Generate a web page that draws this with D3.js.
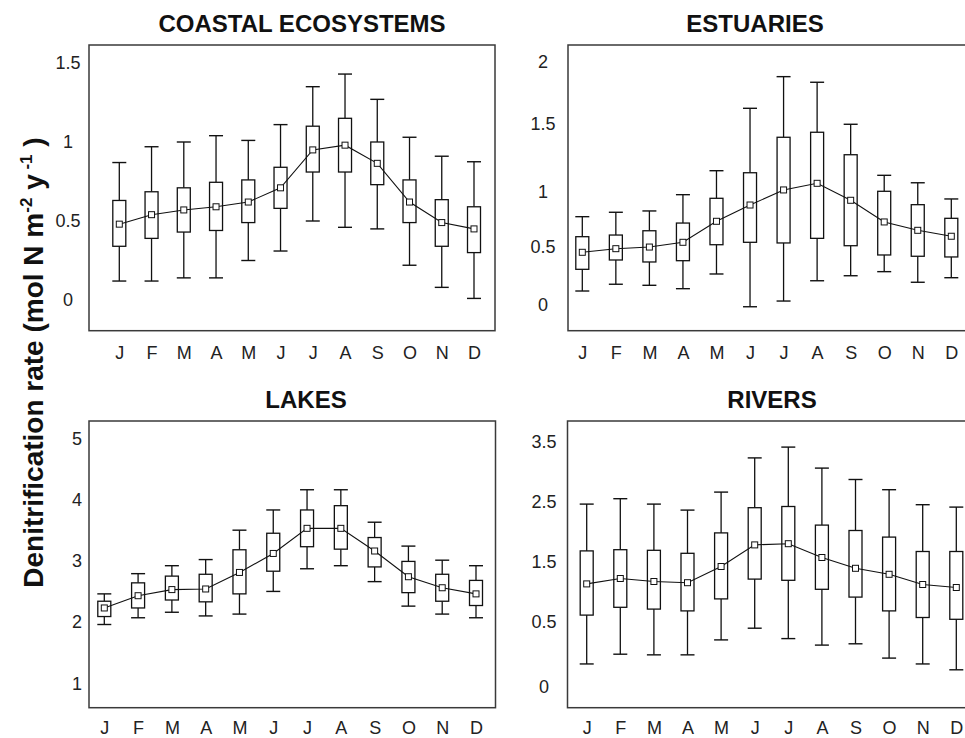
<!DOCTYPE html>
<html><head><meta charset="utf-8">
<script src="https://cdn.jsdelivr.net/npm/d3@7"></script>
<style>body{margin:0;background:#fff}svg{display:block}</style>
</head><body>
<svg id="c" width="965" height="738"></svg>
<script>
const months = ["J","F","M","A","M","J","J","A","S","O","N","D"];

const coastalHigh = [0.87,0.97,1.00,1.04,1.01,1.11,1.35,1.43,1.27,1.03,0.91,0.875];
const coastalQ3   = [0.63,0.685,0.71,0.745,0.76,0.84,1.10,1.15,1.00,0.76,0.635,0.59];
const coastalMean = [0.48,0.54,0.57,0.59,0.62,0.71,0.95,0.98,0.865,0.62,0.49,0.45];
const coastalQ1   = [0.34,0.39,0.43,0.44,0.49,0.58,0.81,0.81,0.73,0.49,0.34,0.30];
const coastalLow  = [0.12,0.12,0.14,0.14,0.25,0.31,0.50,0.46,0.45,0.22,0.08,0.01];
const coastalTicks = [0,0.5,1,1.5];

const estuariesHigh = [0.773,0.813,0.825,0.973,1.155,1.626,1.880,1.835,1.498,1.121,1.066,0.934];
const estuariesQ3   = [0.591,0.606,0.645,0.715,0.940,1.140,1.402,1.439,1.273,1.003,0.882,0.758];
const estuariesMean = [0.452,0.483,0.497,0.540,0.731,0.879,1.013,1.062,0.922,0.725,0.649,0.595];
const estuariesQ1   = [0.306,0.386,0.369,0.380,0.518,0.540,0.534,0.576,0.509,0.429,0.418,0.412];
const estuariesLow  = [0.120,0.178,0.169,0.140,0.266,-0.015,0.034,0.208,0.251,0.286,0.195,0.234];
const estuariesTicks = [0,0.5,1,1.5,2];

const lakesHigh = [2.46,2.79,2.92,3.02,3.50,3.83,4.16,4.16,3.63,3.24,3.01,2.92];
const lakesQ3   = [2.34,2.64,2.75,2.78,3.18,3.45,3.83,3.90,3.38,2.99,2.78,2.68];
const lakesMean = [2.23,2.43,2.53,2.54,2.81,3.12,3.53,3.53,3.16,2.74,2.56,2.46];
const lakesQ1   = [2.09,2.23,2.36,2.33,2.46,2.83,3.23,3.19,2.90,2.48,2.34,2.27];
const lakesLow  = [1.96,2.07,2.16,2.10,2.13,2.50,2.87,2.92,2.66,2.26,2.13,2.07];
const lakesTicks = [1,2,3,4,5];

const riversHigh = [2.46,2.55,2.46,2.36,2.66,3.23,3.41,3.06,2.87,2.70,2.45,2.41];
const riversQ3   = [1.68,1.70,1.69,1.64,1.98,2.40,2.42,2.11,2.02,1.91,1.67,1.67];
const riversMean = [1.13,1.22,1.17,1.15,1.42,1.78,1.80,1.57,1.39,1.29,1.12,1.07];
const riversQ1   = [0.61,0.74,0.71,0.68,0.88,1.21,1.19,1.04,0.91,0.68,0.57,0.54];
const riversLow  = [0.175,0.25,0.245,0.245,0.36,0.45,0.37,0.32,0.33,0.22,0.175,0.13];
const riversTicks = [0,0.5,1.5,2.5,3.5];

const titles = ["COASTAL ECOSYSTEMS","ESTUARIES","LAKES","RIVERS"];

const FONT = "'Liberation Sans', Arial, Helvetica, sans-serif";
const svg = d3.select("#c");

const panels = [
  {title: titles[0], high: coastalHigh, q3: coastalQ3, mean: coastalMean, q1: coastalQ1, low: coastalLow, ticks: coastalTicks,
   frame: [89, 495, 45, 330.7], xr: [119.3, 474], yDom: [0, 1.5], yRng: [300, 63], tickX: 68, titleX: 302, titleY: 31.7, xLabY: 359},
  {title: titles[1], high: estuariesHigh, q3: estuariesQ3, mean: estuariesMean, q1: estuariesQ1, low: estuariesLow, ticks: estuariesTicks,
   frame: [568, 985, 45, 330.7], xr: [582.3, 951.3], yDom: estuariesTicks, yRng: [305, 246.7, 191.7, 124, 61.7], tickX: 543, titleX: 755, titleY: 31.7, xLabY: 359},
  {title: titles[2], high: lakesHigh, q3: lakesQ3, mean: lakesMean, q1: lakesQ1, low: lakesLow, ticks: lakesTicks,
   frame: [89, 495.5, 421, 707.7], xr: [104.3, 476], yDom: [1, 5], yRng: [683.3, 438.3], tickX: 77, titleX: 306, titleY: 408.3, xLabY: 734},
  {title: titles[3], high: riversHigh, q3: riversQ3, mean: riversMean, q1: riversQ1, low: riversLow, ticks: riversTicks,
   frame: [567.5, 985, 421, 707.7], xr: [586.7, 956.3], yDom: riversTicks, yRng: [686.7, 621.7, 561.7, 501.7, 441.7], tickX: 544, titleX: 772, titleY: 408.3, xLabY: 734}
];

const BOXW = 13, CAPW = 14, MK = 6;

panels.forEach(p => {
  const g = svg.append("g");
  const x = d3.scalePoint().domain(d3.range(months.length)).range(p.xr);
  const y = d3.scaleLinear().domain(p.yDom).range(p.yRng);
  const [fx0, fx1, fy0, fy1] = p.frame;

  g.append("rect").attr("x", fx0).attr("y", fy0).attr("width", fx1 - fx0).attr("height", fy1 - fy0)
    .attr("fill", "none").attr("stroke", "#3a3a3a").attr("stroke-width", 1.5);

  g.append("text").attr("x", p.titleX).attr("y", p.titleY).attr("text-anchor", "middle")
    .attr("font-family", FONT).attr("font-weight", "bold").attr("font-size", 24).attr("fill", "#111").text(p.title);

  const ya = g.append("g").attr("transform", `translate(${p.tickX},0)`)
    .call(d3.axisLeft(y).tickValues(p.ticks).tickSize(0).tickPadding(0).tickFormat(d => String(d)));
  ya.select(".domain").remove();
  ya.selectAll("text").attr("x", 0).attr("text-anchor", "middle").attr("font-family", FONT)
    .attr("font-size", 18).attr("fill", "#222");

  const xa = g.append("g").attr("transform", `translate(0,${p.xLabY})`)
    .call(d3.axisBottom(x).tickSize(0).tickPadding(0).tickFormat(i => months[i]));
  xa.select(".domain").remove();
  xa.selectAll("text").attr("y", 0).attr("dy", null).attr("font-family", FONT)
    .attr("font-size", 18).attr("fill", "#222");

  const idx = d3.range(months.length);
  g.selectAll(".wu").data(idx).join("line")
    .attr("x1", i => x(i)).attr("x2", i => x(i)).attr("y1", i => y(p.high[i])).attr("y2", i => y(p.q3[i]))
    .attr("stroke", "#111").attr("stroke-width", 1.3);
  g.selectAll(".wl").data(idx).join("line")
    .attr("x1", i => x(i)).attr("x2", i => x(i)).attr("y1", i => y(p.q1[i])).attr("y2", i => y(p.low[i]))
    .attr("stroke", "#111").attr("stroke-width", 1.3);
  g.selectAll(".cu").data(idx).join("line")
    .attr("x1", i => x(i) - CAPW / 2).attr("x2", i => x(i) + CAPW / 2).attr("y1", i => y(p.high[i])).attr("y2", i => y(p.high[i]))
    .attr("stroke", "#111").attr("stroke-width", 1.4);
  g.selectAll(".cl").data(idx).join("line")
    .attr("x1", i => x(i) - CAPW / 2).attr("x2", i => x(i) + CAPW / 2).attr("y1", i => y(p.low[i])).attr("y2", i => y(p.low[i]))
    .attr("stroke", "#111").attr("stroke-width", 1.4);
  g.selectAll(".bx").data(idx).join("rect")
    .attr("x", i => x(i) - BOXW / 2).attr("width", BOXW)
    .attr("y", i => y(p.q3[i])).attr("height", i => y(p.q1[i]) - y(p.q3[i]))
    .attr("fill", "#fff").attr("stroke", "#111").attr("stroke-width", 1.3);
  g.append("path").datum(idx)
    .attr("d", d3.line().x(i => x(i)).y(i => y(p.mean[i])))
    .attr("fill", "none").attr("stroke", "#111").attr("stroke-width", 1.1);
  g.selectAll(".mk").data(idx).join("rect")
    .attr("x", i => x(i) - MK / 2).attr("y", i => y(p.mean[i]) - MK / 2).attr("width", MK).attr("height", MK)
    .attr("fill", "#fff").attr("stroke", "#111").attr("stroke-width", 1);
});

const yl = svg.append("text").attr("transform", "translate(43,362.5) rotate(-90)")
  .attr("text-anchor", "middle").attr("font-family", FONT).attr("font-weight", "bold")
  .attr("font-size", 28).attr("fill", "#111");
yl.append("tspan").text("Denitrification rate (mol N m");
yl.append("tspan").attr("font-size", 17).attr("dy", -11).text("-2");
yl.append("tspan").attr("dy", 11).text(" y");
yl.append("tspan").attr("font-size", 17).attr("dy", -11).text(" -1");
yl.append("tspan").attr("dy", 11).text(" )");
</script>
</body></html>
